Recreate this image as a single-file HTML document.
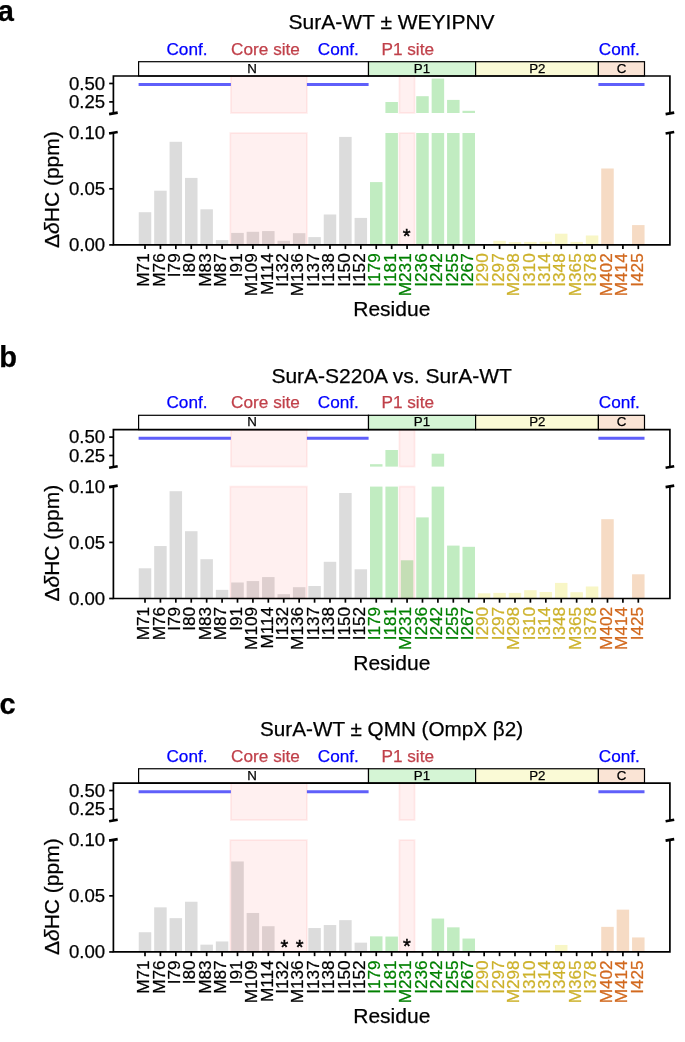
<!DOCTYPE html>
<html><head><meta charset="utf-8"><style>
html,body{margin:0;padding:0;background:#fff;width:685px;height:1042px;overflow:hidden}
svg{display:block;will-change:transform}
text{font-family:"Liberation Sans", sans-serif;fill:currentColor;stroke:currentColor;stroke-width:0.25px}
</style></head><body>
<svg color="#000" width="685" height="1042" viewBox="0 0 685 1042" font-family='"Liberation Sans", sans-serif'>
<rect width="685" height="1042" fill="#fff"/>
<text x="-2.3" y="21" font-size="29" font-weight="bold">a</text><g transform="translate(0 0)"><text x="391.6" y="28.8" font-size="21" text-anchor="middle">SurA-WT ± WEYIPNV</text><text x="187" y="54.8" font-size="17.2" text-anchor="middle" color="#0000ff">Conf.</text><text x="265.5" y="54.8" font-size="17.2" text-anchor="middle" color="#c0404a">Core site</text><text x="338.3" y="54.8" font-size="17.2" text-anchor="middle" color="#0000ff">Conf.</text><text x="407.7" y="54.8" font-size="17.2" text-anchor="middle" color="#c0404a">P1 site</text><text x="619.3" y="54.8" font-size="17.2" text-anchor="middle" color="#0000ff">Conf.</text><rect x="138.6" y="61.7" width="229.9" height="14.3" fill="#ffffff" stroke="#000" stroke-width="1.2"/><text x="252.1" y="72.75" font-size="13.3" text-anchor="middle">N</text><rect x="368.5" y="61.7" width="107.1" height="14.3" fill="#d5f5d5" stroke="#000" stroke-width="1.2"/><text x="422" y="72.75" font-size="13.3" text-anchor="middle">P1</text><rect x="475.6" y="61.7" width="122.8" height="14.3" fill="#fafad6" stroke="#000" stroke-width="1.2"/><text x="537.3" y="72.75" font-size="13.3" text-anchor="middle">P2</text><rect x="598.4" y="61.7" width="46.1" height="14.3" fill="#fae4d5" stroke="#000" stroke-width="1.2"/><text x="621.45" y="72.75" font-size="13.3" text-anchor="middle">C</text><rect x="385.41" y="102" width="12.5" height="11" fill="#c1ecc1"/><rect x="416.24" y="96.2" width="12.5" height="16.8" fill="#c1ecc1"/><rect x="431.65" y="78.6" width="12.5" height="34.4" fill="#c1ecc1"/><rect x="447.07" y="99.9" width="12.5" height="13.1" fill="#c1ecc1"/><rect x="462.49" y="110.8" width="12.5" height="2.2" fill="#c1ecc1"/><rect x="138.75" y="212.2" width="12.5" height="32.7" fill="#dcdcdc"/><rect x="154.17" y="190.7" width="12.5" height="54.2" fill="#dcdcdc"/><rect x="169.58" y="141.8" width="12.5" height="103.1" fill="#dcdcdc"/><rect x="185" y="177.9" width="12.5" height="67" fill="#dcdcdc"/><rect x="200.41" y="209.3" width="12.5" height="35.6" fill="#dcdcdc"/><rect x="215.83" y="240.1" width="12.5" height="4.8" fill="#dcdcdc"/><rect x="231.25" y="232.9" width="12.5" height="12" fill="#dcdcdc"/><rect x="246.66" y="231.8" width="12.5" height="13.1" fill="#dcdcdc"/><rect x="262.08" y="231.1" width="12.5" height="13.8" fill="#dcdcdc"/><rect x="277.49" y="240.8" width="12.5" height="4.1" fill="#dcdcdc"/><rect x="292.91" y="233.2" width="12.5" height="11.7" fill="#dcdcdc"/><rect x="308.33" y="237.1" width="12.5" height="7.8" fill="#dcdcdc"/><rect x="323.74" y="214.5" width="12.5" height="30.4" fill="#dcdcdc"/><rect x="339.16" y="136.9" width="12.5" height="108" fill="#dcdcdc"/><rect x="354.57" y="217.9" width="12.5" height="27" fill="#dcdcdc"/><rect x="369.99" y="182.1" width="12.5" height="62.8" fill="#c1ecc1"/><rect x="385.41" y="133" width="12.5" height="111.9" fill="#c1ecc1"/><rect x="416.24" y="133" width="12.5" height="111.9" fill="#c1ecc1"/><rect x="431.65" y="133" width="12.5" height="111.9" fill="#c1ecc1"/><rect x="447.07" y="133" width="12.5" height="111.9" fill="#c1ecc1"/><rect x="462.49" y="133" width="12.5" height="111.9" fill="#c1ecc1"/><rect x="493.32" y="240.8" width="12.5" height="4.1" fill="#f8f6c6"/><rect x="508.73" y="242.1" width="12.5" height="2.8" fill="#f8f6c6"/><rect x="524.15" y="241.9" width="12.5" height="3" fill="#f8f6c6"/><rect x="539.57" y="241.7" width="12.5" height="3.2" fill="#f8f6c6"/><rect x="554.98" y="233.7" width="12.5" height="11.2" fill="#f8f6c6"/><rect x="570.4" y="241.9" width="12.5" height="3" fill="#f8f6c6"/><rect x="585.81" y="235.5" width="12.5" height="9.4" fill="#f8f6c6"/><rect x="601.23" y="168.5" width="12.5" height="76.4" fill="#f6dbc4"/><rect x="632.06" y="225.1" width="12.5" height="19.8" fill="#f6dbc4"/><rect x="230.9" y="76" width="76" height="37" fill="#ff0000" fill-opacity="0.06" stroke="#ff0000" stroke-opacity="0.065" stroke-width="1.8"/><rect x="399.4" y="76" width="15.2" height="37" fill="#ff0000" fill-opacity="0.06" stroke="#ff0000" stroke-opacity="0.065" stroke-width="1.8"/><rect x="230.3" y="133" width="76.6" height="111.9" fill="#ff0000" fill-opacity="0.06" stroke="#ff0000" stroke-opacity="0.065" stroke-width="1.8"/><rect x="399.4" y="133" width="15.2" height="111.9" fill="#ff0000" fill-opacity="0.06" stroke="#ff0000" stroke-opacity="0.065" stroke-width="1.8"/><line x1="138.6" y1="84.6" x2="230.9" y2="84.6" stroke="#5f5ffa" stroke-width="3"/><line x1="306.9" y1="84.6" x2="368.6" y2="84.6" stroke="#5f5ffa" stroke-width="3"/><line x1="598.4" y1="84.6" x2="644.5" y2="84.6" stroke="#5f5ffa" stroke-width="3"/><path d="M113.4 113V76H669.9V113" fill="none" stroke="#000" stroke-width="1.7"/><path d="M113.4 133V244.9H669.9V133" fill="none" stroke="#000" stroke-width="1.7"/><line x1="109.1" y1="114.15" x2="117.7" y2="112.65" stroke="#000" stroke-width="2.6"/><line x1="109.1" y1="133.55" x2="117.7" y2="132.05" stroke="#000" stroke-width="2.6"/><line x1="665.6" y1="114.15" x2="674.2" y2="112.65" stroke="#000" stroke-width="2.6"/><line x1="665.6" y1="133.55" x2="674.2" y2="132.05" stroke="#000" stroke-width="2.6"/><line x1="109.2" y1="83.5" x2="113.4" y2="83.5" stroke="#000" stroke-width="1.7"/><text x="105.2" y="89.7" font-size="18.6" text-anchor="end">0.50</text><line x1="109.2" y1="101.9" x2="113.4" y2="101.9" stroke="#000" stroke-width="1.7"/><text x="105.2" y="108.1" font-size="18.6" text-anchor="end">0.25</text><line x1="109.2" y1="133" x2="113.4" y2="133" stroke="#000" stroke-width="1.7"/><text x="105.2" y="139.2" font-size="18.6" text-anchor="end">0.10</text><line x1="109.2" y1="188.8" x2="113.4" y2="188.8" stroke="#000" stroke-width="1.7"/><text x="105.2" y="195" font-size="18.6" text-anchor="end">0.05</text><line x1="109.2" y1="244.9" x2="113.4" y2="244.9" stroke="#000" stroke-width="1.7"/><text x="105.2" y="251.1" font-size="18.6" text-anchor="end">0.00</text><line x1="145" y1="244.9" x2="145" y2="249.1" stroke="#000" stroke-width="1.7"/><text transform="translate(149.2 253.3) rotate(-90)" font-size="17.2" text-anchor="end" color="#000000">M71</text><line x1="160.42" y1="244.9" x2="160.42" y2="249.1" stroke="#000" stroke-width="1.7"/><text transform="translate(164.62 253.3) rotate(-90)" font-size="17.2" text-anchor="end" color="#000000">M76</text><line x1="175.83" y1="244.9" x2="175.83" y2="249.1" stroke="#000" stroke-width="1.7"/><text transform="translate(180.03 253.3) rotate(-90)" font-size="17.2" text-anchor="end" color="#000000">I79</text><line x1="191.25" y1="244.9" x2="191.25" y2="249.1" stroke="#000" stroke-width="1.7"/><text transform="translate(195.45 253.3) rotate(-90)" font-size="17.2" text-anchor="end" color="#000000">I80</text><line x1="206.66" y1="244.9" x2="206.66" y2="249.1" stroke="#000" stroke-width="1.7"/><text transform="translate(210.86 253.3) rotate(-90)" font-size="17.2" text-anchor="end" color="#000000">M83</text><line x1="222.08" y1="244.9" x2="222.08" y2="249.1" stroke="#000" stroke-width="1.7"/><text transform="translate(226.28 253.3) rotate(-90)" font-size="17.2" text-anchor="end" color="#000000">M87</text><line x1="237.5" y1="244.9" x2="237.5" y2="249.1" stroke="#000" stroke-width="1.7"/><text transform="translate(241.7 253.3) rotate(-90)" font-size="17.2" text-anchor="end" color="#000000">I91</text><line x1="252.91" y1="244.9" x2="252.91" y2="249.1" stroke="#000" stroke-width="1.7"/><text transform="translate(257.11 253.3) rotate(-90)" font-size="17.2" text-anchor="end" color="#000000">M109</text><line x1="268.33" y1="244.9" x2="268.33" y2="249.1" stroke="#000" stroke-width="1.7"/><text transform="translate(272.53 253.3) rotate(-90)" font-size="17.2" text-anchor="end" color="#000000">M114</text><line x1="283.74" y1="244.9" x2="283.74" y2="249.1" stroke="#000" stroke-width="1.7"/><text transform="translate(287.94 253.3) rotate(-90)" font-size="17.2" text-anchor="end" color="#000000">I132</text><line x1="299.16" y1="244.9" x2="299.16" y2="249.1" stroke="#000" stroke-width="1.7"/><text transform="translate(303.36 253.3) rotate(-90)" font-size="17.2" text-anchor="end" color="#000000">M136</text><line x1="314.58" y1="244.9" x2="314.58" y2="249.1" stroke="#000" stroke-width="1.7"/><text transform="translate(318.78 253.3) rotate(-90)" font-size="17.2" text-anchor="end" color="#000000">I137</text><line x1="329.99" y1="244.9" x2="329.99" y2="249.1" stroke="#000" stroke-width="1.7"/><text transform="translate(334.19 253.3) rotate(-90)" font-size="17.2" text-anchor="end" color="#000000">I138</text><line x1="345.41" y1="244.9" x2="345.41" y2="249.1" stroke="#000" stroke-width="1.7"/><text transform="translate(349.61 253.3) rotate(-90)" font-size="17.2" text-anchor="end" color="#000000">I150</text><line x1="360.82" y1="244.9" x2="360.82" y2="249.1" stroke="#000" stroke-width="1.7"/><text transform="translate(365.02 253.3) rotate(-90)" font-size="17.2" text-anchor="end" color="#000000">I152</text><line x1="376.24" y1="244.9" x2="376.24" y2="249.1" stroke="#000" stroke-width="1.7"/><text transform="translate(380.44 253.3) rotate(-90)" font-size="17.2" text-anchor="end" color="#008000">I179</text><line x1="391.66" y1="244.9" x2="391.66" y2="249.1" stroke="#000" stroke-width="1.7"/><text transform="translate(395.86 253.3) rotate(-90)" font-size="17.2" text-anchor="end" color="#008000">I181</text><line x1="407.07" y1="244.9" x2="407.07" y2="249.1" stroke="#000" stroke-width="1.7"/><text transform="translate(411.27 253.3) rotate(-90)" font-size="17.2" text-anchor="end" color="#008000">M231</text><line x1="422.49" y1="244.9" x2="422.49" y2="249.1" stroke="#000" stroke-width="1.7"/><text transform="translate(426.69 253.3) rotate(-90)" font-size="17.2" text-anchor="end" color="#008000">I236</text><line x1="437.9" y1="244.9" x2="437.9" y2="249.1" stroke="#000" stroke-width="1.7"/><text transform="translate(442.1 253.3) rotate(-90)" font-size="17.2" text-anchor="end" color="#008000">I242</text><line x1="453.32" y1="244.9" x2="453.32" y2="249.1" stroke="#000" stroke-width="1.7"/><text transform="translate(457.52 253.3) rotate(-90)" font-size="17.2" text-anchor="end" color="#008000">I255</text><line x1="468.74" y1="244.9" x2="468.74" y2="249.1" stroke="#000" stroke-width="1.7"/><text transform="translate(472.94 253.3) rotate(-90)" font-size="17.2" text-anchor="end" color="#008000">I267</text><line x1="484.15" y1="244.9" x2="484.15" y2="249.1" stroke="#000" stroke-width="1.7"/><text transform="translate(488.35 253.3) rotate(-90)" font-size="17.2" text-anchor="end" color="#cdb22c">I290</text><line x1="499.57" y1="244.9" x2="499.57" y2="249.1" stroke="#000" stroke-width="1.7"/><text transform="translate(503.77 253.3) rotate(-90)" font-size="17.2" text-anchor="end" color="#cdb22c">I297</text><line x1="514.98" y1="244.9" x2="514.98" y2="249.1" stroke="#000" stroke-width="1.7"/><text transform="translate(519.18 253.3) rotate(-90)" font-size="17.2" text-anchor="end" color="#cdb22c">M298</text><line x1="530.4" y1="244.9" x2="530.4" y2="249.1" stroke="#000" stroke-width="1.7"/><text transform="translate(534.6 253.3) rotate(-90)" font-size="17.2" text-anchor="end" color="#cdb22c">I310</text><line x1="545.82" y1="244.9" x2="545.82" y2="249.1" stroke="#000" stroke-width="1.7"/><text transform="translate(550.02 253.3) rotate(-90)" font-size="17.2" text-anchor="end" color="#cdb22c">I314</text><line x1="561.23" y1="244.9" x2="561.23" y2="249.1" stroke="#000" stroke-width="1.7"/><text transform="translate(565.43 253.3) rotate(-90)" font-size="17.2" text-anchor="end" color="#cdb22c">I348</text><line x1="576.65" y1="244.9" x2="576.65" y2="249.1" stroke="#000" stroke-width="1.7"/><text transform="translate(580.85 253.3) rotate(-90)" font-size="17.2" text-anchor="end" color="#cdb22c">M365</text><line x1="592.06" y1="244.9" x2="592.06" y2="249.1" stroke="#000" stroke-width="1.7"/><text transform="translate(596.26 253.3) rotate(-90)" font-size="17.2" text-anchor="end" color="#cdb22c">I378</text><line x1="607.48" y1="244.9" x2="607.48" y2="249.1" stroke="#000" stroke-width="1.7"/><text transform="translate(611.68 253.3) rotate(-90)" font-size="17.2" text-anchor="end" color="#d2691e">M402</text><line x1="622.9" y1="244.9" x2="622.9" y2="249.1" stroke="#000" stroke-width="1.7"/><text transform="translate(627.1 253.3) rotate(-90)" font-size="17.2" text-anchor="end" color="#d2691e">M414</text><line x1="638.31" y1="244.9" x2="638.31" y2="249.1" stroke="#000" stroke-width="1.7"/><text transform="translate(642.51 253.3) rotate(-90)" font-size="17.2" text-anchor="end" color="#d2691e">I425</text><text x="406.6" y="242.7" font-size="20" text-anchor="middle" style="stroke-width:0.45px">*</text><text transform="translate(59.0 189.6) rotate(-90)" font-size="21" text-anchor="middle">Δ<tspan font-style="italic">δ</tspan>HC (ppm)</text><text x="391.8" y="316.0" font-size="21" text-anchor="middle">Residue</text></g><text x="-0.8" y="367.2" font-size="29" font-weight="bold">b</text><g transform="translate(0 353.6)"><text x="391.6" y="29.2" font-size="21" text-anchor="middle">SurA-S220A vs. SurA-WT</text><text x="187" y="54.8" font-size="17.2" text-anchor="middle" color="#0000ff">Conf.</text><text x="265.5" y="54.8" font-size="17.2" text-anchor="middle" color="#c0404a">Core site</text><text x="338.3" y="54.8" font-size="17.2" text-anchor="middle" color="#0000ff">Conf.</text><text x="407.7" y="54.8" font-size="17.2" text-anchor="middle" color="#c0404a">P1 site</text><text x="619.3" y="54.8" font-size="17.2" text-anchor="middle" color="#0000ff">Conf.</text><rect x="138.6" y="61.7" width="229.9" height="14.3" fill="#ffffff" stroke="#000" stroke-width="1.2"/><text x="252.1" y="72.75" font-size="13.3" text-anchor="middle">N</text><rect x="368.5" y="61.7" width="107.1" height="14.3" fill="#d5f5d5" stroke="#000" stroke-width="1.2"/><text x="422" y="72.75" font-size="13.3" text-anchor="middle">P1</text><rect x="475.6" y="61.7" width="122.8" height="14.3" fill="#fafad6" stroke="#000" stroke-width="1.2"/><text x="537.3" y="72.75" font-size="13.3" text-anchor="middle">P2</text><rect x="598.4" y="61.7" width="46.1" height="14.3" fill="#fae4d5" stroke="#000" stroke-width="1.2"/><text x="621.45" y="72.75" font-size="13.3" text-anchor="middle">C</text><rect x="369.99" y="110.6" width="12.5" height="2.4" fill="#c1ecc1"/><rect x="385.41" y="96.4" width="12.5" height="16.6" fill="#c1ecc1"/><rect x="431.65" y="100.1" width="12.5" height="12.9" fill="#c1ecc1"/><rect x="138.75" y="214.7" width="12.5" height="30.2" fill="#dcdcdc"/><rect x="154.17" y="192.45" width="12.5" height="52.45" fill="#dcdcdc"/><rect x="169.58" y="137.6" width="12.5" height="107.3" fill="#dcdcdc"/><rect x="185" y="177.6" width="12.5" height="67.3" fill="#dcdcdc"/><rect x="200.41" y="205.6" width="12.5" height="39.3" fill="#dcdcdc"/><rect x="215.83" y="236.25" width="12.5" height="8.65" fill="#dcdcdc"/><rect x="231.25" y="228.9" width="12.5" height="16" fill="#dcdcdc"/><rect x="246.66" y="227.5" width="12.5" height="17.4" fill="#dcdcdc"/><rect x="262.08" y="223.5" width="12.5" height="21.4" fill="#dcdcdc"/><rect x="277.49" y="240.6" width="12.5" height="4.3" fill="#dcdcdc"/><rect x="292.91" y="233.6" width="12.5" height="11.3" fill="#dcdcdc"/><rect x="308.33" y="232.4" width="12.5" height="12.5" fill="#dcdcdc"/><rect x="323.74" y="208.2" width="12.5" height="36.7" fill="#dcdcdc"/><rect x="339.16" y="139.4" width="12.5" height="105.5" fill="#dcdcdc"/><rect x="354.57" y="215.7" width="12.5" height="29.2" fill="#dcdcdc"/><rect x="369.99" y="133" width="12.5" height="111.9" fill="#c1ecc1"/><rect x="385.41" y="133" width="12.5" height="111.9" fill="#c1ecc1"/><rect x="400.82" y="206.7" width="12.5" height="38.2" fill="#c1ecc1"/><rect x="416.24" y="163.8" width="12.5" height="81.1" fill="#c1ecc1"/><rect x="431.65" y="133" width="12.5" height="111.9" fill="#c1ecc1"/><rect x="447.07" y="192" width="12.5" height="52.9" fill="#c1ecc1"/><rect x="462.49" y="193.2" width="12.5" height="51.7" fill="#c1ecc1"/><rect x="477.9" y="239.7" width="12.5" height="5.2" fill="#f8f6c6"/><rect x="493.32" y="239.3" width="12.5" height="5.6" fill="#f8f6c6"/><rect x="508.73" y="239.3" width="12.5" height="5.6" fill="#f8f6c6"/><rect x="524.15" y="236.6" width="12.5" height="8.3" fill="#f8f6c6"/><rect x="539.57" y="238.4" width="12.5" height="6.5" fill="#f8f6c6"/><rect x="554.98" y="229.3" width="12.5" height="15.6" fill="#f8f6c6"/><rect x="570.4" y="238.6" width="12.5" height="6.3" fill="#f8f6c6"/><rect x="585.81" y="232.9" width="12.5" height="12" fill="#f8f6c6"/><rect x="601.23" y="165.6" width="12.5" height="79.3" fill="#f6dbc4"/><rect x="632.06" y="220.7" width="12.5" height="24.2" fill="#f6dbc4"/><rect x="230.9" y="76" width="76" height="37" fill="#ff0000" fill-opacity="0.06" stroke="#ff0000" stroke-opacity="0.065" stroke-width="1.8"/><rect x="399.4" y="76" width="15.2" height="37" fill="#ff0000" fill-opacity="0.06" stroke="#ff0000" stroke-opacity="0.065" stroke-width="1.8"/><rect x="230.3" y="133" width="76.6" height="111.9" fill="#ff0000" fill-opacity="0.06" stroke="#ff0000" stroke-opacity="0.065" stroke-width="1.8"/><rect x="399.4" y="133" width="15.2" height="111.9" fill="#ff0000" fill-opacity="0.06" stroke="#ff0000" stroke-opacity="0.065" stroke-width="1.8"/><line x1="138.6" y1="84.6" x2="230.9" y2="84.6" stroke="#5f5ffa" stroke-width="3"/><line x1="306.9" y1="84.6" x2="368.6" y2="84.6" stroke="#5f5ffa" stroke-width="3"/><line x1="598.4" y1="84.6" x2="644.5" y2="84.6" stroke="#5f5ffa" stroke-width="3"/><path d="M113.4 113V76H669.9V113" fill="none" stroke="#000" stroke-width="1.7"/><path d="M113.4 133V244.9H669.9V133" fill="none" stroke="#000" stroke-width="1.7"/><line x1="109.1" y1="114.15" x2="117.7" y2="112.65" stroke="#000" stroke-width="2.6"/><line x1="109.1" y1="133.55" x2="117.7" y2="132.05" stroke="#000" stroke-width="2.6"/><line x1="665.6" y1="114.15" x2="674.2" y2="112.65" stroke="#000" stroke-width="2.6"/><line x1="665.6" y1="133.55" x2="674.2" y2="132.05" stroke="#000" stroke-width="2.6"/><line x1="109.2" y1="83.5" x2="113.4" y2="83.5" stroke="#000" stroke-width="1.7"/><text x="105.2" y="89.7" font-size="18.6" text-anchor="end">0.50</text><line x1="109.2" y1="101.9" x2="113.4" y2="101.9" stroke="#000" stroke-width="1.7"/><text x="105.2" y="108.1" font-size="18.6" text-anchor="end">0.25</text><line x1="109.2" y1="133" x2="113.4" y2="133" stroke="#000" stroke-width="1.7"/><text x="105.2" y="139.2" font-size="18.6" text-anchor="end">0.10</text><line x1="109.2" y1="188.8" x2="113.4" y2="188.8" stroke="#000" stroke-width="1.7"/><text x="105.2" y="195" font-size="18.6" text-anchor="end">0.05</text><line x1="109.2" y1="244.9" x2="113.4" y2="244.9" stroke="#000" stroke-width="1.7"/><text x="105.2" y="251.1" font-size="18.6" text-anchor="end">0.00</text><line x1="145" y1="244.9" x2="145" y2="249.1" stroke="#000" stroke-width="1.7"/><text transform="translate(149.2 253.3) rotate(-90)" font-size="17.2" text-anchor="end" color="#000000">M71</text><line x1="160.42" y1="244.9" x2="160.42" y2="249.1" stroke="#000" stroke-width="1.7"/><text transform="translate(164.62 253.3) rotate(-90)" font-size="17.2" text-anchor="end" color="#000000">M76</text><line x1="175.83" y1="244.9" x2="175.83" y2="249.1" stroke="#000" stroke-width="1.7"/><text transform="translate(180.03 253.3) rotate(-90)" font-size="17.2" text-anchor="end" color="#000000">I79</text><line x1="191.25" y1="244.9" x2="191.25" y2="249.1" stroke="#000" stroke-width="1.7"/><text transform="translate(195.45 253.3) rotate(-90)" font-size="17.2" text-anchor="end" color="#000000">I80</text><line x1="206.66" y1="244.9" x2="206.66" y2="249.1" stroke="#000" stroke-width="1.7"/><text transform="translate(210.86 253.3) rotate(-90)" font-size="17.2" text-anchor="end" color="#000000">M83</text><line x1="222.08" y1="244.9" x2="222.08" y2="249.1" stroke="#000" stroke-width="1.7"/><text transform="translate(226.28 253.3) rotate(-90)" font-size="17.2" text-anchor="end" color="#000000">M87</text><line x1="237.5" y1="244.9" x2="237.5" y2="249.1" stroke="#000" stroke-width="1.7"/><text transform="translate(241.7 253.3) rotate(-90)" font-size="17.2" text-anchor="end" color="#000000">I91</text><line x1="252.91" y1="244.9" x2="252.91" y2="249.1" stroke="#000" stroke-width="1.7"/><text transform="translate(257.11 253.3) rotate(-90)" font-size="17.2" text-anchor="end" color="#000000">M109</text><line x1="268.33" y1="244.9" x2="268.33" y2="249.1" stroke="#000" stroke-width="1.7"/><text transform="translate(272.53 253.3) rotate(-90)" font-size="17.2" text-anchor="end" color="#000000">M114</text><line x1="283.74" y1="244.9" x2="283.74" y2="249.1" stroke="#000" stroke-width="1.7"/><text transform="translate(287.94 253.3) rotate(-90)" font-size="17.2" text-anchor="end" color="#000000">I132</text><line x1="299.16" y1="244.9" x2="299.16" y2="249.1" stroke="#000" stroke-width="1.7"/><text transform="translate(303.36 253.3) rotate(-90)" font-size="17.2" text-anchor="end" color="#000000">M136</text><line x1="314.58" y1="244.9" x2="314.58" y2="249.1" stroke="#000" stroke-width="1.7"/><text transform="translate(318.78 253.3) rotate(-90)" font-size="17.2" text-anchor="end" color="#000000">I137</text><line x1="329.99" y1="244.9" x2="329.99" y2="249.1" stroke="#000" stroke-width="1.7"/><text transform="translate(334.19 253.3) rotate(-90)" font-size="17.2" text-anchor="end" color="#000000">I138</text><line x1="345.41" y1="244.9" x2="345.41" y2="249.1" stroke="#000" stroke-width="1.7"/><text transform="translate(349.61 253.3) rotate(-90)" font-size="17.2" text-anchor="end" color="#000000">I150</text><line x1="360.82" y1="244.9" x2="360.82" y2="249.1" stroke="#000" stroke-width="1.7"/><text transform="translate(365.02 253.3) rotate(-90)" font-size="17.2" text-anchor="end" color="#000000">I152</text><line x1="376.24" y1="244.9" x2="376.24" y2="249.1" stroke="#000" stroke-width="1.7"/><text transform="translate(380.44 253.3) rotate(-90)" font-size="17.2" text-anchor="end" color="#008000">I179</text><line x1="391.66" y1="244.9" x2="391.66" y2="249.1" stroke="#000" stroke-width="1.7"/><text transform="translate(395.86 253.3) rotate(-90)" font-size="17.2" text-anchor="end" color="#008000">I181</text><line x1="407.07" y1="244.9" x2="407.07" y2="249.1" stroke="#000" stroke-width="1.7"/><text transform="translate(411.27 253.3) rotate(-90)" font-size="17.2" text-anchor="end" color="#008000">M231</text><line x1="422.49" y1="244.9" x2="422.49" y2="249.1" stroke="#000" stroke-width="1.7"/><text transform="translate(426.69 253.3) rotate(-90)" font-size="17.2" text-anchor="end" color="#008000">I236</text><line x1="437.9" y1="244.9" x2="437.9" y2="249.1" stroke="#000" stroke-width="1.7"/><text transform="translate(442.1 253.3) rotate(-90)" font-size="17.2" text-anchor="end" color="#008000">I242</text><line x1="453.32" y1="244.9" x2="453.32" y2="249.1" stroke="#000" stroke-width="1.7"/><text transform="translate(457.52 253.3) rotate(-90)" font-size="17.2" text-anchor="end" color="#008000">I255</text><line x1="468.74" y1="244.9" x2="468.74" y2="249.1" stroke="#000" stroke-width="1.7"/><text transform="translate(472.94 253.3) rotate(-90)" font-size="17.2" text-anchor="end" color="#008000">I267</text><line x1="484.15" y1="244.9" x2="484.15" y2="249.1" stroke="#000" stroke-width="1.7"/><text transform="translate(488.35 253.3) rotate(-90)" font-size="17.2" text-anchor="end" color="#cdb22c">I290</text><line x1="499.57" y1="244.9" x2="499.57" y2="249.1" stroke="#000" stroke-width="1.7"/><text transform="translate(503.77 253.3) rotate(-90)" font-size="17.2" text-anchor="end" color="#cdb22c">I297</text><line x1="514.98" y1="244.9" x2="514.98" y2="249.1" stroke="#000" stroke-width="1.7"/><text transform="translate(519.18 253.3) rotate(-90)" font-size="17.2" text-anchor="end" color="#cdb22c">M298</text><line x1="530.4" y1="244.9" x2="530.4" y2="249.1" stroke="#000" stroke-width="1.7"/><text transform="translate(534.6 253.3) rotate(-90)" font-size="17.2" text-anchor="end" color="#cdb22c">I310</text><line x1="545.82" y1="244.9" x2="545.82" y2="249.1" stroke="#000" stroke-width="1.7"/><text transform="translate(550.02 253.3) rotate(-90)" font-size="17.2" text-anchor="end" color="#cdb22c">I314</text><line x1="561.23" y1="244.9" x2="561.23" y2="249.1" stroke="#000" stroke-width="1.7"/><text transform="translate(565.43 253.3) rotate(-90)" font-size="17.2" text-anchor="end" color="#cdb22c">I348</text><line x1="576.65" y1="244.9" x2="576.65" y2="249.1" stroke="#000" stroke-width="1.7"/><text transform="translate(580.85 253.3) rotate(-90)" font-size="17.2" text-anchor="end" color="#cdb22c">M365</text><line x1="592.06" y1="244.9" x2="592.06" y2="249.1" stroke="#000" stroke-width="1.7"/><text transform="translate(596.26 253.3) rotate(-90)" font-size="17.2" text-anchor="end" color="#cdb22c">I378</text><line x1="607.48" y1="244.9" x2="607.48" y2="249.1" stroke="#000" stroke-width="1.7"/><text transform="translate(611.68 253.3) rotate(-90)" font-size="17.2" text-anchor="end" color="#d2691e">M402</text><line x1="622.9" y1="244.9" x2="622.9" y2="249.1" stroke="#000" stroke-width="1.7"/><text transform="translate(627.1 253.3) rotate(-90)" font-size="17.2" text-anchor="end" color="#d2691e">M414</text><line x1="638.31" y1="244.9" x2="638.31" y2="249.1" stroke="#000" stroke-width="1.7"/><text transform="translate(642.51 253.3) rotate(-90)" font-size="17.2" text-anchor="end" color="#d2691e">I425</text><text transform="translate(59.0 189.6) rotate(-90)" font-size="21" text-anchor="middle">Δ<tspan font-style="italic">δ</tspan>HC (ppm)</text><text x="391.8" y="316.0" font-size="21" text-anchor="middle">Residue</text></g><text x="-0.6" y="714.2" font-size="29" font-weight="bold">c</text><g transform="translate(0 707.05)"><text x="391.6" y="28.75" font-size="20.7" text-anchor="middle">SurA-WT ± QMN (OmpX β2)</text><text x="187" y="54.8" font-size="17.2" text-anchor="middle" color="#0000ff">Conf.</text><text x="265.5" y="54.8" font-size="17.2" text-anchor="middle" color="#c0404a">Core site</text><text x="338.3" y="54.8" font-size="17.2" text-anchor="middle" color="#0000ff">Conf.</text><text x="407.7" y="54.8" font-size="17.2" text-anchor="middle" color="#c0404a">P1 site</text><text x="619.3" y="54.8" font-size="17.2" text-anchor="middle" color="#0000ff">Conf.</text><rect x="138.6" y="61.7" width="229.9" height="14.3" fill="#ffffff" stroke="#000" stroke-width="1.2"/><text x="252.1" y="72.75" font-size="13.3" text-anchor="middle">N</text><rect x="368.5" y="61.7" width="107.1" height="14.3" fill="#d5f5d5" stroke="#000" stroke-width="1.2"/><text x="422" y="72.75" font-size="13.3" text-anchor="middle">P1</text><rect x="475.6" y="61.7" width="122.8" height="14.3" fill="#fafad6" stroke="#000" stroke-width="1.2"/><text x="537.3" y="72.75" font-size="13.3" text-anchor="middle">P2</text><rect x="598.4" y="61.7" width="46.1" height="14.3" fill="#fae4d5" stroke="#000" stroke-width="1.2"/><text x="621.45" y="72.75" font-size="13.3" text-anchor="middle">C</text><rect x="138.75" y="225.2" width="12.5" height="19.7" fill="#dcdcdc"/><rect x="154.17" y="200.3" width="12.5" height="44.6" fill="#dcdcdc"/><rect x="169.58" y="211.1" width="12.5" height="33.8" fill="#dcdcdc"/><rect x="185" y="194.7" width="12.5" height="50.2" fill="#dcdcdc"/><rect x="200.41" y="237.6" width="12.5" height="7.3" fill="#dcdcdc"/><rect x="215.83" y="234.4" width="12.5" height="10.5" fill="#dcdcdc"/><rect x="231.25" y="154.4" width="12.5" height="90.5" fill="#dcdcdc"/><rect x="246.66" y="205.9" width="12.5" height="39" fill="#dcdcdc"/><rect x="262.08" y="219.2" width="12.5" height="25.7" fill="#dcdcdc"/><rect x="308.33" y="221" width="12.5" height="23.9" fill="#dcdcdc"/><rect x="323.74" y="218" width="12.5" height="26.9" fill="#dcdcdc"/><rect x="339.16" y="213.1" width="12.5" height="31.8" fill="#dcdcdc"/><rect x="354.57" y="235.6" width="12.5" height="9.3" fill="#dcdcdc"/><rect x="369.99" y="229.3" width="12.5" height="15.6" fill="#c1ecc1"/><rect x="385.41" y="229.5" width="12.5" height="15.4" fill="#c1ecc1"/><rect x="431.65" y="211.5" width="12.5" height="33.4" fill="#c1ecc1"/><rect x="447.07" y="220.3" width="12.5" height="24.6" fill="#c1ecc1"/><rect x="462.49" y="231.5" width="12.5" height="13.4" fill="#c1ecc1"/><rect x="477.9" y="244" width="12.5" height="0.9" fill="#f8f6c6"/><rect x="493.32" y="244" width="12.5" height="0.9" fill="#f8f6c6"/><rect x="554.98" y="237.9" width="12.5" height="7" fill="#f8f6c6"/><rect x="585.81" y="244" width="12.5" height="0.9" fill="#f8f6c6"/><rect x="601.23" y="219.8" width="12.5" height="25.1" fill="#f6dbc4"/><rect x="616.65" y="202.6" width="12.5" height="42.3" fill="#f6dbc4"/><rect x="632.06" y="230.4" width="12.5" height="14.5" fill="#f6dbc4"/><rect x="230.9" y="76" width="76" height="37" fill="#ff0000" fill-opacity="0.06" stroke="#ff0000" stroke-opacity="0.065" stroke-width="1.8"/><rect x="399.4" y="76" width="15.2" height="37" fill="#ff0000" fill-opacity="0.06" stroke="#ff0000" stroke-opacity="0.065" stroke-width="1.8"/><rect x="230.3" y="133" width="76.6" height="111.9" fill="#ff0000" fill-opacity="0.06" stroke="#ff0000" stroke-opacity="0.065" stroke-width="1.8"/><rect x="399.4" y="133" width="15.2" height="111.9" fill="#ff0000" fill-opacity="0.06" stroke="#ff0000" stroke-opacity="0.065" stroke-width="1.8"/><line x1="138.6" y1="84.6" x2="230.9" y2="84.6" stroke="#5f5ffa" stroke-width="3"/><line x1="306.9" y1="84.6" x2="368.6" y2="84.6" stroke="#5f5ffa" stroke-width="3"/><line x1="598.4" y1="84.6" x2="644.5" y2="84.6" stroke="#5f5ffa" stroke-width="3"/><path d="M113.4 113V76H669.9V113" fill="none" stroke="#000" stroke-width="1.7"/><path d="M113.4 133V244.9H669.9V133" fill="none" stroke="#000" stroke-width="1.7"/><line x1="109.1" y1="114.15" x2="117.7" y2="112.65" stroke="#000" stroke-width="2.6"/><line x1="109.1" y1="133.55" x2="117.7" y2="132.05" stroke="#000" stroke-width="2.6"/><line x1="665.6" y1="114.15" x2="674.2" y2="112.65" stroke="#000" stroke-width="2.6"/><line x1="665.6" y1="133.55" x2="674.2" y2="132.05" stroke="#000" stroke-width="2.6"/><line x1="109.2" y1="83.5" x2="113.4" y2="83.5" stroke="#000" stroke-width="1.7"/><text x="105.2" y="89.7" font-size="18.6" text-anchor="end">0.50</text><line x1="109.2" y1="101.9" x2="113.4" y2="101.9" stroke="#000" stroke-width="1.7"/><text x="105.2" y="108.1" font-size="18.6" text-anchor="end">0.25</text><line x1="109.2" y1="133" x2="113.4" y2="133" stroke="#000" stroke-width="1.7"/><text x="105.2" y="139.2" font-size="18.6" text-anchor="end">0.10</text><line x1="109.2" y1="188.8" x2="113.4" y2="188.8" stroke="#000" stroke-width="1.7"/><text x="105.2" y="195" font-size="18.6" text-anchor="end">0.05</text><line x1="109.2" y1="244.9" x2="113.4" y2="244.9" stroke="#000" stroke-width="1.7"/><text x="105.2" y="251.1" font-size="18.6" text-anchor="end">0.00</text><line x1="145" y1="244.9" x2="145" y2="249.1" stroke="#000" stroke-width="1.7"/><text transform="translate(149.2 253.3) rotate(-90)" font-size="17.2" text-anchor="end" color="#000000">M71</text><line x1="160.42" y1="244.9" x2="160.42" y2="249.1" stroke="#000" stroke-width="1.7"/><text transform="translate(164.62 253.3) rotate(-90)" font-size="17.2" text-anchor="end" color="#000000">M76</text><line x1="175.83" y1="244.9" x2="175.83" y2="249.1" stroke="#000" stroke-width="1.7"/><text transform="translate(180.03 253.3) rotate(-90)" font-size="17.2" text-anchor="end" color="#000000">I79</text><line x1="191.25" y1="244.9" x2="191.25" y2="249.1" stroke="#000" stroke-width="1.7"/><text transform="translate(195.45 253.3) rotate(-90)" font-size="17.2" text-anchor="end" color="#000000">I80</text><line x1="206.66" y1="244.9" x2="206.66" y2="249.1" stroke="#000" stroke-width="1.7"/><text transform="translate(210.86 253.3) rotate(-90)" font-size="17.2" text-anchor="end" color="#000000">M83</text><line x1="222.08" y1="244.9" x2="222.08" y2="249.1" stroke="#000" stroke-width="1.7"/><text transform="translate(226.28 253.3) rotate(-90)" font-size="17.2" text-anchor="end" color="#000000">M87</text><line x1="237.5" y1="244.9" x2="237.5" y2="249.1" stroke="#000" stroke-width="1.7"/><text transform="translate(241.7 253.3) rotate(-90)" font-size="17.2" text-anchor="end" color="#000000">I91</text><line x1="252.91" y1="244.9" x2="252.91" y2="249.1" stroke="#000" stroke-width="1.7"/><text transform="translate(257.11 253.3) rotate(-90)" font-size="17.2" text-anchor="end" color="#000000">M109</text><line x1="268.33" y1="244.9" x2="268.33" y2="249.1" stroke="#000" stroke-width="1.7"/><text transform="translate(272.53 253.3) rotate(-90)" font-size="17.2" text-anchor="end" color="#000000">M114</text><line x1="283.74" y1="244.9" x2="283.74" y2="249.1" stroke="#000" stroke-width="1.7"/><text transform="translate(287.94 253.3) rotate(-90)" font-size="17.2" text-anchor="end" color="#000000">I132</text><line x1="299.16" y1="244.9" x2="299.16" y2="249.1" stroke="#000" stroke-width="1.7"/><text transform="translate(303.36 253.3) rotate(-90)" font-size="17.2" text-anchor="end" color="#000000">M136</text><line x1="314.58" y1="244.9" x2="314.58" y2="249.1" stroke="#000" stroke-width="1.7"/><text transform="translate(318.78 253.3) rotate(-90)" font-size="17.2" text-anchor="end" color="#000000">I137</text><line x1="329.99" y1="244.9" x2="329.99" y2="249.1" stroke="#000" stroke-width="1.7"/><text transform="translate(334.19 253.3) rotate(-90)" font-size="17.2" text-anchor="end" color="#000000">I138</text><line x1="345.41" y1="244.9" x2="345.41" y2="249.1" stroke="#000" stroke-width="1.7"/><text transform="translate(349.61 253.3) rotate(-90)" font-size="17.2" text-anchor="end" color="#000000">I150</text><line x1="360.82" y1="244.9" x2="360.82" y2="249.1" stroke="#000" stroke-width="1.7"/><text transform="translate(365.02 253.3) rotate(-90)" font-size="17.2" text-anchor="end" color="#000000">I152</text><line x1="376.24" y1="244.9" x2="376.24" y2="249.1" stroke="#000" stroke-width="1.7"/><text transform="translate(380.44 253.3) rotate(-90)" font-size="17.2" text-anchor="end" color="#008000">I179</text><line x1="391.66" y1="244.9" x2="391.66" y2="249.1" stroke="#000" stroke-width="1.7"/><text transform="translate(395.86 253.3) rotate(-90)" font-size="17.2" text-anchor="end" color="#008000">I181</text><line x1="407.07" y1="244.9" x2="407.07" y2="249.1" stroke="#000" stroke-width="1.7"/><text transform="translate(411.27 253.3) rotate(-90)" font-size="17.2" text-anchor="end" color="#008000">M231</text><line x1="422.49" y1="244.9" x2="422.49" y2="249.1" stroke="#000" stroke-width="1.7"/><text transform="translate(426.69 253.3) rotate(-90)" font-size="17.2" text-anchor="end" color="#008000">I236</text><line x1="437.9" y1="244.9" x2="437.9" y2="249.1" stroke="#000" stroke-width="1.7"/><text transform="translate(442.1 253.3) rotate(-90)" font-size="17.2" text-anchor="end" color="#008000">I242</text><line x1="453.32" y1="244.9" x2="453.32" y2="249.1" stroke="#000" stroke-width="1.7"/><text transform="translate(457.52 253.3) rotate(-90)" font-size="17.2" text-anchor="end" color="#008000">I255</text><line x1="468.74" y1="244.9" x2="468.74" y2="249.1" stroke="#000" stroke-width="1.7"/><text transform="translate(472.94 253.3) rotate(-90)" font-size="17.2" text-anchor="end" color="#008000">I267</text><line x1="484.15" y1="244.9" x2="484.15" y2="249.1" stroke="#000" stroke-width="1.7"/><text transform="translate(488.35 253.3) rotate(-90)" font-size="17.2" text-anchor="end" color="#cdb22c">I290</text><line x1="499.57" y1="244.9" x2="499.57" y2="249.1" stroke="#000" stroke-width="1.7"/><text transform="translate(503.77 253.3) rotate(-90)" font-size="17.2" text-anchor="end" color="#cdb22c">I297</text><line x1="514.98" y1="244.9" x2="514.98" y2="249.1" stroke="#000" stroke-width="1.7"/><text transform="translate(519.18 253.3) rotate(-90)" font-size="17.2" text-anchor="end" color="#cdb22c">M298</text><line x1="530.4" y1="244.9" x2="530.4" y2="249.1" stroke="#000" stroke-width="1.7"/><text transform="translate(534.6 253.3) rotate(-90)" font-size="17.2" text-anchor="end" color="#cdb22c">I310</text><line x1="545.82" y1="244.9" x2="545.82" y2="249.1" stroke="#000" stroke-width="1.7"/><text transform="translate(550.02 253.3) rotate(-90)" font-size="17.2" text-anchor="end" color="#cdb22c">I314</text><line x1="561.23" y1="244.9" x2="561.23" y2="249.1" stroke="#000" stroke-width="1.7"/><text transform="translate(565.43 253.3) rotate(-90)" font-size="17.2" text-anchor="end" color="#cdb22c">I348</text><line x1="576.65" y1="244.9" x2="576.65" y2="249.1" stroke="#000" stroke-width="1.7"/><text transform="translate(580.85 253.3) rotate(-90)" font-size="17.2" text-anchor="end" color="#cdb22c">M365</text><line x1="592.06" y1="244.9" x2="592.06" y2="249.1" stroke="#000" stroke-width="1.7"/><text transform="translate(596.26 253.3) rotate(-90)" font-size="17.2" text-anchor="end" color="#cdb22c">I378</text><line x1="607.48" y1="244.9" x2="607.48" y2="249.1" stroke="#000" stroke-width="1.7"/><text transform="translate(611.68 253.3) rotate(-90)" font-size="17.2" text-anchor="end" color="#d2691e">M402</text><line x1="622.9" y1="244.9" x2="622.9" y2="249.1" stroke="#000" stroke-width="1.7"/><text transform="translate(627.1 253.3) rotate(-90)" font-size="17.2" text-anchor="end" color="#d2691e">M414</text><line x1="638.31" y1="244.9" x2="638.31" y2="249.1" stroke="#000" stroke-width="1.7"/><text transform="translate(642.51 253.3) rotate(-90)" font-size="17.2" text-anchor="end" color="#d2691e">I425</text><text x="284.3" y="246.8" font-size="20" text-anchor="middle" style="stroke-width:0.45px">*</text><text x="299.7" y="246.8" font-size="20" text-anchor="middle" style="stroke-width:0.45px">*</text><text x="407" y="246" font-size="20" text-anchor="middle" style="stroke-width:0.45px">*</text><text transform="translate(59.0 189.6) rotate(-90)" font-size="21" text-anchor="middle">Δ<tspan font-style="italic">δ</tspan>HC (ppm)</text><text x="391.8" y="316.0" font-size="21" text-anchor="middle">Residue</text></g>
</svg></body></html>
